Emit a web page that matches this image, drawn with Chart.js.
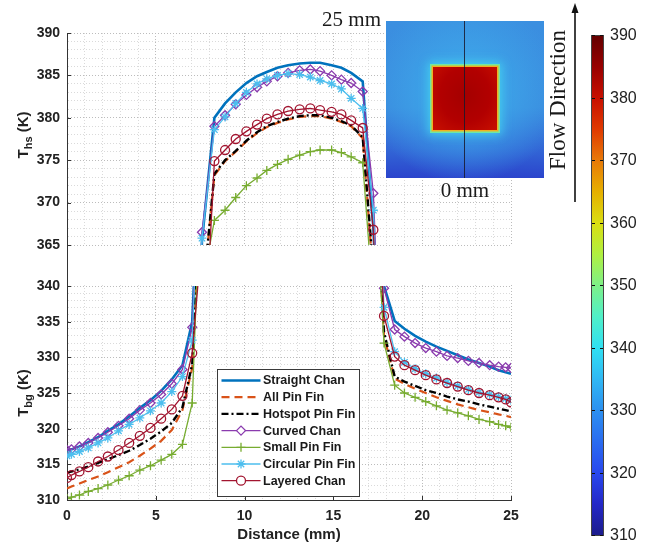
<!DOCTYPE html>
<html>
<head>
<meta charset="utf-8">
<script src="https://cdn.jsdelivr.net/npm/chart.js@4/dist/chart.umd.min.js"></script>
<style>
  body { margin: 0; background: #fff; }
  #wrap { position: relative; width: 645px; height: 547px; overflow: hidden; }
  #chart { position: absolute; left: 0; top: 0; }
  .serif { position: absolute; font-family: 'Liberation Serif', 'Times New Roman', serif; color: #1a1a1a; white-space: nowrap; }
  #inset { position: absolute; left: 386px; top: 21px; width: 158px; height: 157px; overflow: hidden;
    background:
      radial-gradient(ellipse 62% 58% at 50% 45%, rgba(72,196,240,0.95) 0%, rgba(62,168,234,0.8) 38%, rgba(58,140,224,0) 100%),
      linear-gradient(to bottom, #3b8fe0 0%, #3a8ade 55%, #3266d6 82%, #2b44cc 100%); }
  #hotspot { position: absolute; left: 47px; top: 46px; width: 64px; height: 63px;
    background: radial-gradient(ellipse at 50% 45%, #a40000 0%, #b20000 55%, #c81000 100%);
    box-shadow: 0 0 0 1.5px #f0b020, 0 0 0 3px #70e8a0, 0 0 9px 5px rgba(70,215,240,0.75); }
  #cut { position: absolute; left: 78px; top: 0; width: 1px; height: 157px; background: rgba(25,25,45,0.85); }
  #cbar { position: absolute; left: 591px; top: 35px; width: 11px; height: 499px; border: 1px solid #444;
    background: linear-gradient(to bottom, #640000 0%, #980000 6.25%, #c81000 12.5%, #e03a00 18.75%, #e87a08 25%,
      #e6b000 31.25%, #dade12 37.5%, #b0f040 43.75%, #7ef088 50%, #50f0c8 56.25%, #30e0f2 62.5%, #30b8f4 68.75%,
      #2c90f0 75%, #2a6cf0 81.25%, #2848ee 87.5%, #2428c8 93.75%, #1c1c8c 100%); }
  .cblab { position: absolute; left: 610px; font-family: 'Liberation Sans', Arial, sans-serif; font-size: 16px; color: #222; transform: translateY(-50%); }
  .cbtick { position: absolute; height: 1px; width: 3px; background: #111; }
</style>
</head>
<body>
<div id="wrap">
  <canvas id="chart" width="645" height="547"></canvas>
  <div class="serif" style="right:264px; top:7px; font-size:21px;">25 mm</div>
  <div id="inset"><div id="hotspot"></div><div id="cut"></div></div>
  <div class="serif" style="left:465px; top:190px; font-size:21px; transform:translate(-50%,-50%);">0 mm</div>
  <div class="serif" style="left:558px; top:100px; font-size:23px; transform:translate(-50%,-50%) rotate(-90deg);">Flow Direction</div>
  <svg style="position:absolute; left:0; top:0;" width="645" height="547">
    <line x1="575" y1="202" x2="575" y2="12" stroke="#111" stroke-width="1.6"/>
    <polygon points="575,3 571.5,13 578.5,13" fill="#111"/>
  </svg>
  <div id="cbar"></div>
</div>

<script>
    // Distância ao longo da linha de corte (mm)
    const distance = [0, 0.25, 0.7, 1.2, 1.75, 2.3, 2.9, 3.5, 4.1, 4.7, 5.3, 5.9, 6.5, 7.05, 7.6,
        8.3, 8.9, 9.5, 10.1, 10.7, 11.25, 11.85, 12.45, 13.1, 13.7, 14.25, 14.9, 15.45, 16.0, 16.65, 17.25,
        17.85, 18.45, 19.0, 19.6, 20.2, 20.8, 21.4, 22.0, 22.6, 23.2, 23.8, 24.3, 24.7, 25.0];

    // Temperaturas (K) de cada configuração
    const straightChan = [317.0, 317.1, 317.5, 318.1, 318.8, 319.7, 320.6, 321.7, 322.9, 324.0, 325.3, 326.9, 328.9, 335.0, 365.5,
        380.0, 381.7, 383.0, 384.1, 384.9, 385.4, 385.9, 386.2, 386.4, 386.5, 386.5, 386.2, 385.9, 385.3, 384.3, 367.0,
        340.0, 335.1, 334.0, 333.0, 332.2, 331.5, 330.9, 330.3, 329.7, 329.2, 328.7, 328.2, 327.9, 327.7];
    const allPinFin = [311.6, 311.9, 312.3, 312.8, 313.3, 313.9, 314.6, 315.3, 316.2, 317.2, 318.3, 319.8, 322.6, 328.5, 358.0,
        373.2, 374.9, 376.0, 377.2, 378.2, 378.9, 379.4, 379.8, 380.1, 380.2, 380.2, 379.9, 379.5, 379.0, 377.6, 361.0,
        333.0, 327.0, 326.3, 325.6, 325.0, 324.4, 323.9, 323.4, 323.0, 322.6, 322.3, 322.0, 321.8, 321.6];
    const hotspotPinFin = [313.8, 314.0, 314.3, 314.7, 315.2, 315.7, 316.3, 316.9, 317.7, 318.6, 319.6, 320.8, 323.0, 329.0, 358.0,
        373.4, 375.0, 376.1, 377.3, 378.3, 379.0, 379.5, 379.9, 380.2, 380.3, 380.3, 380.0, 379.6, 379.1, 377.7, 362.0,
        333.5, 327.3, 326.6, 326.0, 325.4, 325.0, 324.5, 324.1, 323.8, 323.4, 323.1, 322.8, 322.6, 322.4];
    const curvedChan = [317.0, 317.1, 317.5, 318.0, 318.7, 319.5, 320.4, 321.4, 322.6, 323.6, 324.8, 326.3, 328.3, 334.2, 366.5,
        379.0, 380.3, 381.6, 382.7, 383.6, 384.3, 384.9, 385.3, 385.6, 385.7, 385.5, 385.0, 384.5, 384.1, 383.1, 371.1,
        339.7, 333.9, 332.9, 332.0, 331.3, 330.8, 330.2, 329.9, 329.5, 329.2, 328.9, 328.7, 328.6, 328.5];
    const smallPinFin = [310.2, 310.4, 310.7, 311.2, 311.6, 312.1, 312.8, 313.4, 314.2, 314.8, 315.6, 316.4, 317.8, 323.6, 360.0,
        367.9, 369.1, 370.6, 372.0, 372.9, 373.8, 374.5, 375.1, 375.6, 376.0, 376.2, 376.2, 375.9, 375.4, 374.7, 358.0,
        332.0, 326.1, 325.0, 324.4, 323.8, 323.2, 322.6, 322.2, 321.8, 321.3, 321.0, 320.6, 320.4, 320.2];
    const circularPinFin = [316.2, 316.4, 316.8, 317.3, 318.0, 318.7, 319.7, 320.6, 321.5, 322.5, 323.6, 325.2, 327.3, 332.4, 365.8,
        378.6, 380.1, 381.7, 383.0, 384.0, 384.6, 385.0, 385.2, 385.1, 384.8, 384.4, 384.0, 383.4, 382.3, 381.1, 369.1,
        337.0, 330.8, 329.3, 328.4, 327.7, 327.1, 326.5, 326.0, 325.5, 325.1, 324.8, 324.5, 324.2, 324.0];
    const layeredChan = [313.1, 313.5, 314.0, 314.6, 315.4, 316.1, 317.0, 318.0, 319.0, 320.1, 321.4, 322.7, 324.6, 330.6, 347.0,
        374.9, 376.2, 377.5, 378.4, 379.2, 379.9, 380.4, 380.8, 381.0, 381.1, 380.9, 380.7, 380.4, 379.7, 378.8, 366.8,
        335.8, 330.1, 328.9, 328.2, 327.5, 326.9, 326.4, 325.9, 325.4, 325.0, 324.7, 324.4, 324.1, 323.7];

    // Faixas dos dois painéis (eixo quebrado) e da barra de cores
    const topRange = [365, 390];
    const bottomRange = [310, 340];
    const colorbarTicks = [390, 380, 370, 360, 350, 340, 330, 320, 310];

    const series = [
        { label: 'Straight Chan', values: straightChan, color: '#0072BD', width: 2.6, dash: [], point: null },
        { label: 'All Pin Fin', values: allPinFin, color: '#D95319', width: 2.2, dash: [8, 5], point: null },
        { label: 'Hotspot Pin Fin', values: hotspotPinFin, color: '#000000', width: 2.4, dash: [7, 3, 2, 3], point: null },
        { label: 'Curved Chan', values: curvedChan, color: '#8A3BAE', width: 1.3, dash: [], point: 'rectRot', radius: 4.5 },
        { label: 'Small Pin Fin', values: smallPinFin, color: '#77AC30', width: 1.3, dash: [], point: 'cross', radius: 4.5 },
        { label: 'Circular Pin Fin', values: circularPinFin, color: '#4DBEEE', width: 1.3, dash: [], point: 'star', radius: 4.5 },
        { label: 'Layered Chan', values: layeredChan, color: '#A2142F', width: 1.3, dash: [], point: 'circle', radius: 4.5 }
    ];

    const tickFont = { family: "'Liberation Sans', Arial, sans-serif", size: 14, weight: 'bold' };
    const textColor = '#222';

    // Cada série é desenhada nos dois painéis; o plugin recorta cada um
    const datasets = [];
    series.forEach((s, i) => {
        ['yTop', 'yBottom'].forEach(axis => {
            datasets.push({
                label: s.label,
                yAxisID: axis,
                data: distance.map((x, k) => ({ x: x, y: s.values[k] })),
                borderColor: s.color,
                borderWidth: s.width,
                borderDash: s.dash,
                pointStyle: s.point || 'circle',
                pointRadius: s.point ? s.radius : 0,
                pointBorderColor: s.color,
                pointBackgroundColor: 'rgba(0,0,0,0)',
                pointBorderWidth: 1.3,
                fill: false,
                tension: 0,
                order: series.length - i
            });
        });
    });

    function gridColor(ctx) {
        return (ctx.tick && ctx.tick.value % 5 === 0) ? '#bcbcbc' : '#dadada';
    }

    function yAxis(range, weight) {
        return {
            type: 'linear', position: 'left', stack: 'temp', stackWeight: weight,
            min: range[0], max: range[1],
            ticks: { stepSize: 1, autoSkip: false, font: tickFont, color: textColor, padding: 7,
                callback: v => (v % 5 === 0 ? v : '') },
            grid: { drawTicks: false, color: gridColor, lineWidth: 1 },
            border: { color: '#333', width: 1, dash: [1, 2] },
            afterFit: s => { s.width = 67; }
        };
    }

    function drawYTitle(ctx, cx, cy, sub) {
        const big = "bold 15px 'Liberation Sans', Arial, sans-serif";
        const small = "bold 11px 'Liberation Sans', Arial, sans-serif";
        ctx.save();
        ctx.translate(cx, cy);
        ctx.rotate(-Math.PI / 2);
        ctx.fillStyle = textColor;
        ctx.textBaseline = 'alphabetic';
        ctx.font = big;
        const wT = ctx.measureText('T').width;
        const wK = ctx.measureText(' (K)').width;
        ctx.font = small;
        const wS = ctx.measureText(sub).width;
        let x = -(wT + wS + wK) / 2;
        ctx.font = big;
        ctx.fillText('T', x, 0);
        x += wT;
        ctx.font = small;
        ctx.fillText(sub, x, 4);
        x += wS;
        ctx.font = big;
        ctx.fillText(' (K)', x, 0);
        ctx.restore();
    }

    // Marcas de escala internas, como no MATLAB
    function drawInnerTicks(chart) {
        const ctx = chart.ctx, area = chart.chartArea;
        ctx.save();
        ctx.strokeStyle = '#333';
        ctx.lineWidth = 1;
        ctx.beginPath();
        chart.scales.x.ticks.forEach(t => {
            if (t.value % 5 !== 0) return;
            const px = Math.round(chart.scales.x.getPixelForValue(t.value)) + 0.5;
            ctx.moveTo(px, area.bottom);
            ctx.lineTo(px, area.bottom - 4);
        });
        ['yTop', 'yBottom'].forEach(id => {
            const sc = chart.scales[id];
            sc.ticks.forEach(t => {
                if (t.value % 5 !== 0) return;
                const py = Math.round(sc.getPixelForValue(t.value)) + 0.5;
                ctx.moveTo(area.left, py);
                ctx.lineTo(area.left + 4, py);
            });
        });
        ctx.stroke();
        ctx.restore();
    }

    function drawLegend(chart) {
        const ctx = chart.ctx;
        const left = 217.5, top = 369.5, w = 142, h = 127, row = 16.7;
        ctx.save();
        ctx.fillStyle = '#fff';
        ctx.strokeStyle = '#3a3a3a';
        ctx.lineWidth = 1;
        ctx.fillRect(left, top, w, h);
        ctx.strokeRect(left, top, w, h);
        ctx.font = "bold 12.5px 'Liberation Sans', Arial, sans-serif";
        ctx.textBaseline = 'middle';
        series.forEach((s, i) => {
            const y = top + 11 + i * row;
            ctx.strokeStyle = s.color;
            ctx.lineWidth = s.width;
            ctx.setLineDash(s.dash);
            ctx.beginPath();
            ctx.moveTo(left + 4, y);
            ctx.lineTo(left + 43, y);
            ctx.stroke();
            ctx.setLineDash([]);
            if (s.point) {
                ctx.fillStyle = '#fff';
                ctx.lineWidth = 1.3;
                Chart.helpers.drawPoint(ctx, { pointStyle: s.point, radius: s.radius, rotation: 0, borderWidth: 1.3 }, left + 23.5, y);
            }
            ctx.fillStyle = '#1a1a1a';
            ctx.fillText(s.label, left + 45.5, y + 0.5);
        });
        ctx.restore();
    }

    // Eixo quebrado: limpa o intervalo e recorta cada painel
    const brokenAxis = {
        id: 'brokenAxis',
        beforeDatasetsDraw(chart) {
            const gap = chart.scales.yGap, area = chart.chartArea, ctx = chart.ctx;
            ctx.save();
            ctx.fillStyle = '#fff';
            ctx.fillRect(area.left + 1, gap.top + 1, area.right - area.left + 2, gap.bottom - gap.top - 2);
            ctx.restore();
        },
        beforeDatasetDraw(chart, args) {
            const sc = chart.scales[args.meta.yAxisID], area = chart.chartArea, ctx = chart.ctx;
            ctx.save();
            ctx.beginPath();
            ctx.rect(area.left, sc.top - 1.5, area.right - area.left + 6, sc.bottom - sc.top + 3);
            ctx.clip();
        },
        afterDatasetDraw(chart) {
            chart.ctx.restore();
        },
        afterDraw(chart) {
            const t = chart.scales.yTop, b = chart.scales.yBottom;
            drawInnerTicks(chart);
            drawYTitle(chart.ctx, 28, (t.top + t.bottom) / 2 - 4, 'hs');
            drawYTitle(chart.ctx, 28, (b.top + b.bottom) / 2, 'bg');
            drawLegend(chart);
        }
    };

    const ctx = document.getElementById('chart').getContext('2d');
    new Chart(ctx, {
        type: 'line',
        data: { datasets: datasets },
        options: {
            responsive: false,
            devicePixelRatio: 1,
            animation: false,
            layout: { padding: { top: 33, right: 134, bottom: 0, left: 0 } },
            plugins: { legend: { display: false }, tooltip: { enabled: false } },
            scales: {
                x: {
                    type: 'linear', min: 0, max: 25,
                    ticks: { stepSize: 1, autoSkip: false, maxRotation: 0, font: tickFont, color: textColor, padding: 8,
                        callback: v => (v % 5 === 0 ? v : '') },
                    grid: { drawTicks: false, color: gridColor, lineWidth: 1 },
                    border: { color: '#333', width: 1, dash: [1, 2] },
                    title: { display: true, text: 'Distance (mm)', color: textColor,
                        font: { family: "'Liberation Sans', Arial, sans-serif", size: 15, weight: 'bold' },
                        padding: { top: 2, bottom: 3 } },
                    afterFit: s => { s.height = 47; }
                },
                // os eixos empilhados são dispostos de baixo para cima
                yBottom: yAxis(bottomRange, 214),
                yGap: {
                    type: 'linear', position: 'left', stack: 'temp', stackWeight: 41, min: 0, max: 1,
                    ticks: { display: false }, grid: { display: false },
                    border: { color: '#333', width: 1 },
                    afterFit: s => { s.width = 67; }
                },
                yTop: yAxis(topRange, 212)
            }
        },
        plugins: [brokenAxis]
    });

    // Barra de cores (escala do mapa térmico)
    const wrap = document.getElementById('wrap');
    colorbarTicks.forEach(v => {
        const y = 35 + (390 - v) / 80 * 500;
        const lab = document.createElement('div');
        lab.className = 'cblab';
        lab.style.top = y + 'px';
        lab.textContent = v;
        wrap.appendChild(lab);
        [592, 600].forEach(x => {
            const t = document.createElement('div');
            t.className = 'cbtick';
            t.style.left = x + 'px';
            t.style.top = y + 'px';
            wrap.appendChild(t);
        });
    });
</script>
</body>
</html>
